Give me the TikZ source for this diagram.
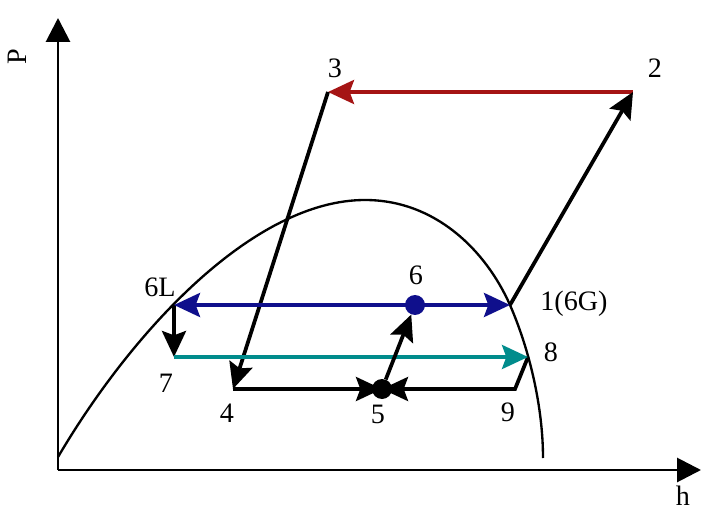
\documentclass[tikz,border=0pt]{standalone}
\usepackage{fontspec}
\setmainfont{Liberation Serif}
\usetikzlibrary{arrows.meta}
\definecolor{cycred}{RGB}{165,20,20}
\definecolor{cycblue}{RGB}{15,15,140}
\definecolor{cycteal}{RGB}{0,140,140}

\begin{document}
\begin{tikzpicture}[x=0.03cm,y=-0.03cm,
    lbl/.style={font=\fontsize{24}{28}\selectfont,inner sep=0pt},
    proc/.style={line width=3.2pt,-{Stealth[length=0.78cm,width=0.72cm,inset=0.13cm]}},
    axisline/.style={line width=2.5pt,-{Triangle[length=0.72cm,width=0.72cm]}},
    dot/.style={circle,fill,inner sep=0pt,minimum size=0.6cm}]
            \useasboundingbox (0,0) rectangle (703,514);
            \coordinate (o) at (58,470);
            \coordinate (ptop) at (58,18);
            \coordinate (hend) at (701,470);
            \coordinate (p1) at (510,305);
            \coordinate (p2) at (633,92);
            \coordinate (p3) at (328,92);
            \coordinate (p4) at (233,389);
            \coordinate (p5) at (382,389);
            \coordinate (p6) at (415,305);
            \coordinate (p6L) at (174,305);
            \coordinate (p7) at (174,357);
            \coordinate (p8) at (528,357);
            \coordinate (p9) at (515,389);
            %Axis
            \draw[axisline] (o) -- (ptop);
            \draw[axisline] (o) -- (hend);
            \node[lbl,rotate=90] (lP) at (17,57) {P};
            \node[lbl] (lh) at (683,496) {h};
            %Dome
            \draw[line width=2pt] (58,457) .. controls (134,328) and (255,200) .. (365,200)
                .. controls (435,200) and (485.6,250) .. (p1)
                .. controls (530,351) and (543,408) .. (543,458);
            %Process lines
            \draw[proc,cycred] (p2) -- (p3);
            \draw[proc] (p3) -- (p4);
            \draw[proc] (p1) -- (p2);
            \draw[proc] (p4) -- (p5);
            \draw[proc] (p8) -- (p9) -- (p5);
            \draw[proc] (p6L) -- (p7);
            \draw[proc,cycteal] (p7) -- (p8);
            \draw[proc,cycblue] (p6) -- (p6L);
            \draw[proc,cycblue] (p6) -- (p1);
            %Dots
            \node[dot,cycblue] (d6) at (p6) {};
            \node[dot] (d5) at (p5) {};
            \draw[proc] (d5) -- (d6);
            %Labels
            \node[lbl] (l1) at (574,304) {1(6G)};
            \node[lbl] (l2) at (655,68) {2};
            \node[lbl] (l3) at (335,68) {3};
            \node[lbl] (l4) at (227,413) {4};
            \node[lbl] (l5) at (378,414) {5};
            \node[lbl] (l6) at (416,275) {6};
            \node[lbl] (l6L) at (160,287) {6L};
            \node[lbl] (l7) at (166,383) {7};
            \node[lbl] (l8) at (551,352) {8};
            \node[lbl] (l9) at (508,412) {9};
\end{tikzpicture}
\end{document}
